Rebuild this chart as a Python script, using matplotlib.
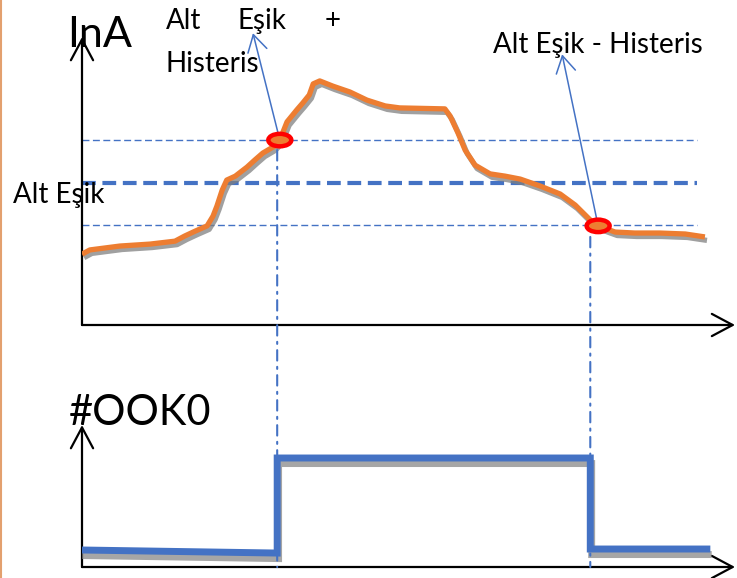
import numpy as np
import matplotlib
matplotlib.use("Agg")
import matplotlib.pyplot as plt
import matplotlib.patheffects as pe
from matplotlib.patches import Ellipse, ConnectionPatch
from matplotlib.lines import Line2D

# current (InA), time in arbitrary units 0..100
t_ina = [0, 1.2, 3.5, 5.8, 10.4, 14.2, 15.7, 17.3, 19.1, 20.0, 20.6, 21.4, 22.1,
         23.4, 25.2, 26.4, 27.6, 29.2, 30.2, 31.3, 32.8, 33.7, 34.7, 35.3, 36.3,
         38.3, 40.9, 43.5, 46.3, 48.5, 55.4, 56.2, 57.4, 58.5, 60.0, 62.3, 64.6,
         66.9, 69.9, 73.0, 75.3, 77.6, 78.8, 81.4, 84.4, 88.2, 92.1, 95.1]
ina = [2.18, 2.31, 2.37, 2.43, 2.49, 2.58, 2.74, 2.89, 3.05, 3.35, 3.66, 4.15, 4.46,
       4.58, 4.86, 5.08, 5.29, 5.48, 5.69, 6.25, 6.62, 6.83, 7.08, 7.42, 7.51,
       7.35, 7.17, 6.92, 6.74, 6.68, 6.65, 6.43, 5.91, 5.38, 4.92, 4.65, 4.58,
       4.49, 4.28, 4.03, 3.69, 3.23, 3.05, 2.86, 2.83, 2.83, 2.80, 2.71]

th_upper = 5.69   # Alt Esik + Histeris
th_mid = 4.38     # Alt Esik
th_lower = 3.08   # Alt Esik - Histeris
th_end = 93.9

t_on = 29.8
t_off = 77.6
cross_on = (30.2, 5.69)
cross_off = (78.8, 3.05)

# #OOK0 output
t_ook = [0, t_on, t_on, t_off, t_off, 95.4]
ook = [0.156, 0.128, 1.0, 1.0, 0.165, 0.165]

BLUE = "#4472C4"
ORANGE = "#ED7D31"

plt.rcParams['font.family'] = ['Lato', 'DejaVu Sans']

fig = plt.figure(figsize=(7.37, 5.78), dpi=100)
W, H = 737.0, 578.0

ax = fig.add_axes([82 / W, (H - 325) / H, 655 / W, 325 / H])
ax.set_xlim(0, 100)
ax.set_ylim(0, 10)
ax.axis('off')

ax2 = fig.add_axes([82 / W, (H - 567) / H, 655 / W, 187 / H])
ax2.set_xlim(0, 100)
ax2.set_ylim(0, 187 / 109)
ax2.axis('off')

# axes with arrow heads
ap = dict(arrowstyle='->,head_length=0.75,head_width=0.4', lw=1.6, color='black',
          shrinkA=0, shrinkB=0, mutation_scale=20)
ax.annotate('', xy=(0, 0.886), xytext=(0, 0), xycoords='axes fraction', arrowprops=ap,
            annotation_clip=False)
ax.annotate('', xy=(0.997, 0), xytext=(0, 0), xycoords='axes fraction', arrowprops=ap,
            annotation_clip=False)
ax2.annotate('', xy=(0, 0.759), xytext=(0, 0), xycoords='axes fraction', arrowprops=ap,
             annotation_clip=False)
ax2.annotate('', xy=(0.997, 0), xytext=(0, 0), xycoords='axes fraction', arrowprops=ap,
             annotation_clip=False)

# thresholds
ax.plot([0, th_end], [th_upper, th_upper], color=BLUE, lw=1.0, dashes=(5, 2.5))
ax.plot([0, th_end], [th_lower, th_lower], color=BLUE, lw=1.0, dashes=(5, 2.5))
ax.plot([0, th_end], [th_mid, th_mid], color=BLUE, lw=3.0, dashes=(3.3, 1.6))

# current curve with shadow
ax.plot(t_ina, ina, color=ORANGE, lw=3.8, solid_capstyle='butt', zorder=4,
        path_effects=[pe.SimpleLineShadow(offset=(1.5, -2.5), shadow_color='#808080', alpha=0.75),
                      pe.Normal()])

# annotation arrows to labels
bp = dict(arrowstyle='->,head_length=0.6,head_width=0.35', lw=1.1, color=BLUE,
          shrinkA=0, shrinkB=0, mutation_scale=20)
ax.annotate('', xy=(26.1, 8.98), xytext=cross_on, xycoords='data', arrowprops=bp,
            annotation_clip=False, zorder=5)
ax.annotate('', xy=(73.3, 8.33), xytext=cross_off, xycoords='data', arrowprops=bp,
            annotation_clip=False, zorder=5)

# crossing markers
for c in (cross_on, cross_off):
    ax.add_patch(Ellipse(c, width=23 / 6.55, height=12.5 / 32.5, facecolor=ORANGE,
                         edgecolor='#FF0000', lw=3.2, zorder=6))

# switch instants linking both panels
for t0, i0 in ((t_on, 5.38), (t_off, 2.71)):
    con = ConnectionPatch(xyA=(t0, i0), coordsA=ax.transData, xyB=(t0, 0.0),
                          coordsB=ax2.transData, color=BLUE, lw=1.5,
                          linestyle=(0, (5, 3, 1, 3)), zorder=1)
    fig.add_artist(con)

# output step with shadow
ax2.plot(t_ook, ook, color=BLUE, lw=5, solid_joinstyle='miter', zorder=4,
         path_effects=[pe.SimpleLineShadow(offset=(1.0, -4.0), shadow_color='#808080', alpha=0.7),
                       pe.Normal()])

# texts
def ftext(x, y, s, size, **kw):
    fig.text(x / W, 1 - y / H, s, fontsize=size, va='baseline', ha='left', **kw)

ftext(67, 47, "InA", 31)
ftext(69, 425, "#OOK0", 30)
ftext(166, 29, "Alt", 20)
ftext(238, 29, "Eşik", 20)
ftext(325, 29, "+", 20)
ftext(166, 72, "Histeris", 20)
ftext(493, 53, "Alt Eşik - Histeris", 20)
ftext(13, 203, "Alt Eşik", 20)

# orange frame edge at far left
fig.add_artist(Line2D([1.5 / W, 1.5 / W], [0, 1], color='#E3A06E', lw=1.5))

fig.savefig("out.png", dpi=100)
